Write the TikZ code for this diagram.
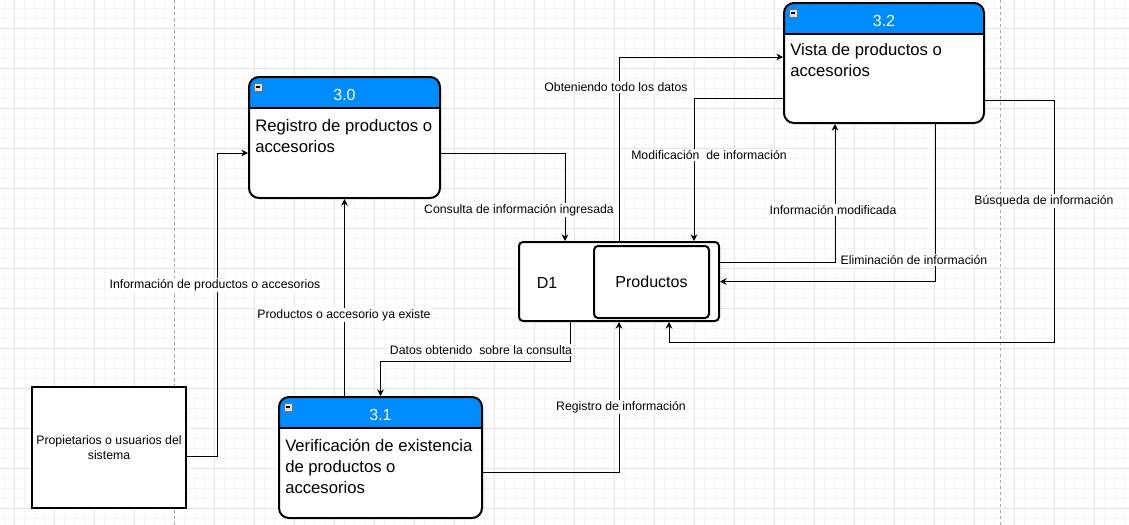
\documentclass[tikz,border=0pt]{standalone}
\usepackage{fontspec}
\setmainfont{Liberation Sans}
\usepackage{tikz}
\usetikzlibrary{arrows.meta, positioning}

\definecolor{hdrblue}{RGB}{0,140,255}

\begin{document}
\begin{tikzpicture}[
  x=0.75pt, y=-0.75pt,
  gridminor/.style={draw=black!4, line width=0.75pt},
  gridmajor/.style={draw=black!10, line width=0.75pt},
  pageline/.style={draw=black!35, line width=0.75pt, dash pattern=on 2.25pt off 2.25pt},
  proc/.style={rectangle, draw, fill=white, line width=1.5pt, rounded corners=7.5pt,
               minimum height=90.75pt, inner sep=0pt,
               path picture={
                 \fill[hdrblue, sharp corners] (path picture bounding box.north west)
                   rectangle ([yshift=-23pt]path picture bounding box.north east);
                 \draw[line width=1.5pt, sharp corners]
                   ([yshift=-23pt]path picture bounding box.north west) --
                   ([yshift=-23pt]path picture bounding box.north east);
                 \draw[line width=0.4pt, draw=black!55, fill=black!12, sharp corners]
                   ([shift={(4pt,-4.5pt)}]path picture bounding box.north west) rectangle ++(6pt,-6pt);
                 \draw[line width=0.8pt, sharp corners]
                   ([shift={(5.5pt,-7.5pt)}]path picture bounding box.north west) -- ++(3pt,0pt);
               }},
  headnum/.style={text=white, font=\fontsize{12pt}{14pt}\selectfont, inner sep=0pt},
  bodytext/.style={anchor=north west, align=left, inner sep=0pt,
                   font=\fontsize{12.5pt}{15.75pt}\selectfont},
  entity/.style={rectangle, draw, fill=white, line width=1.5pt, align=center,
                 minimum width=112.5pt, minimum height=90.75pt,
                 font=\fontsize{9.2pt}{11.25pt}\selectfont},
  store/.style={rectangle, draw, fill=white, line width=1.5pt, rounded corners=3pt,
                font=\fontsize{12pt}{14pt}\selectfont},
  lbl/.style={fill=white, inner sep=1pt, font=\fontsize{9.2pt}{11pt}\selectfont},
  flow/.style={-{Stealth[length=5pt, width=5pt]}, line width=0.75pt},
]
  \useasboundingbox (0,0) rectangle (1129,525);

  % background grid and page breaks
  \foreach \gx in {4,14,...,1124} \draw[gridminor] (\gx,0) -- (\gx,525);
  \foreach \gy in {8,18,...,518} \draw[gridminor] (0,\gy) -- (1129,\gy);
  \foreach \gx in {14,54,...,1124} \draw[gridmajor] (\gx,0) -- (\gx,525);
  \foreach \gy in {28,68,...,508} \draw[gridmajor] (0,\gy) -- (1129,\gy);
  \draw[pageline] (174.5,0) -- (174.5,525);
  \draw[pageline] (1000.5,0) -- (1000.5,525);

  % processes
  \node[proc, minimum width=143.25pt] (p30) at (344.5,137.5) {};
  \node[proc, minimum width=152.25pt] (p31) at (380.5,457.5) {};
  \node[proc, minimum width=150pt, minimum height=90pt] (p32) at (884,63) {};

  \node[headnum] (n30) at ([yshift=-14pt]p30.north) {3.0};
  \node[headnum] (n31) at ([yshift=-14pt]p31.north) {3.1};
  \node[headnum] (n32) at ([yshift=-14pt]p32.north) {3.2};

  \node[bodytext] (t30) at ([shift={(5.25pt,-32.5pt)}]p30.north west)
    {Registro de productos o\\accesorios};
  \node[bodytext] (t31) at ([shift={(5.25pt,-32.5pt)}]p31.north west)
    {Verificación de existencia\\de productos o\\accesorios};
  \node[bodytext] (t32) at ([shift={(5.25pt,-31pt)}]p32.north west)
    {Vista de productos o\\accesorios};

  % external entity and data store
  \node[entity] (ent) at (109,447.5) {Propietarios o usuarios del\\sistema};
  \node[store, minimum width=150pt, minimum height=59.25pt] (d1) at (619,281.5) {};
  \node[store, minimum width=86.25pt, minimum height=54pt] (prod) at (651.5,282) {Productos};
  \node[font=\fontsize{12pt}{14pt}\selectfont, inner sep=0pt] (d1lbl) at (547,283) {D1};

  % flows
  \draw[flow] (ent.east |- 0,456) -| (217,153) -- (p30.west |- 0,153);
  \draw[flow] (p31.north -| p30.south) -- (p30.south);
  \draw[flow] (p30.east |- 0,153) -| (d1.north -| 565,0);
  \draw[flow] (d1.south -| 570,0) |- (p31.north |- 0,361) -- (p31.north);
  \draw[flow] (p31.east |- 0,472) -| (d1.south);
  \draw[flow] (d1.north) |- (p32.west |- 0,57);
  \draw[flow] (p32.west |- 0,98) -| (d1.north -| 694,0);
  \draw[flow] (d1.east |- 0,262) -| (p32.south -| 835,0);
  \draw[flow] (p32.south -| 935,0) |- (d1.east);
  \draw[flow] (p32.east |- 0,100) -| (1054,342) -| (d1.south -| 669,0);

  % flow labels
  \node[lbl] (l1)  at (215,285)  {Información de productos o accesorios};
  \node[lbl] (l2)  at (344,315)  {Productos o accesorio ya existe};
  \node[lbl] (l3)  at (519,210)  {Consulta de información ingresada};
  \node[lbl] (l4)  at (481,350)  {Datos obtenido\ \ sobre la consulta};
  \node[lbl] (l5)  at (621,407)  {Registro de información};
  \node[lbl] (l6)  at (616,87)   {Obteniendo todo los datos};
  \node[lbl] (l7)  at (709,155)  {Modificación\ \ de información};
  \node[lbl] (l8)  at (833,210)  {Información modificada};
  \node[lbl] (l9)  at (914,260)  {Eliminación de información};
  \node[lbl] (l10) at (1044,201) {Búsqueda de información};
\end{tikzpicture}
\end{document}
